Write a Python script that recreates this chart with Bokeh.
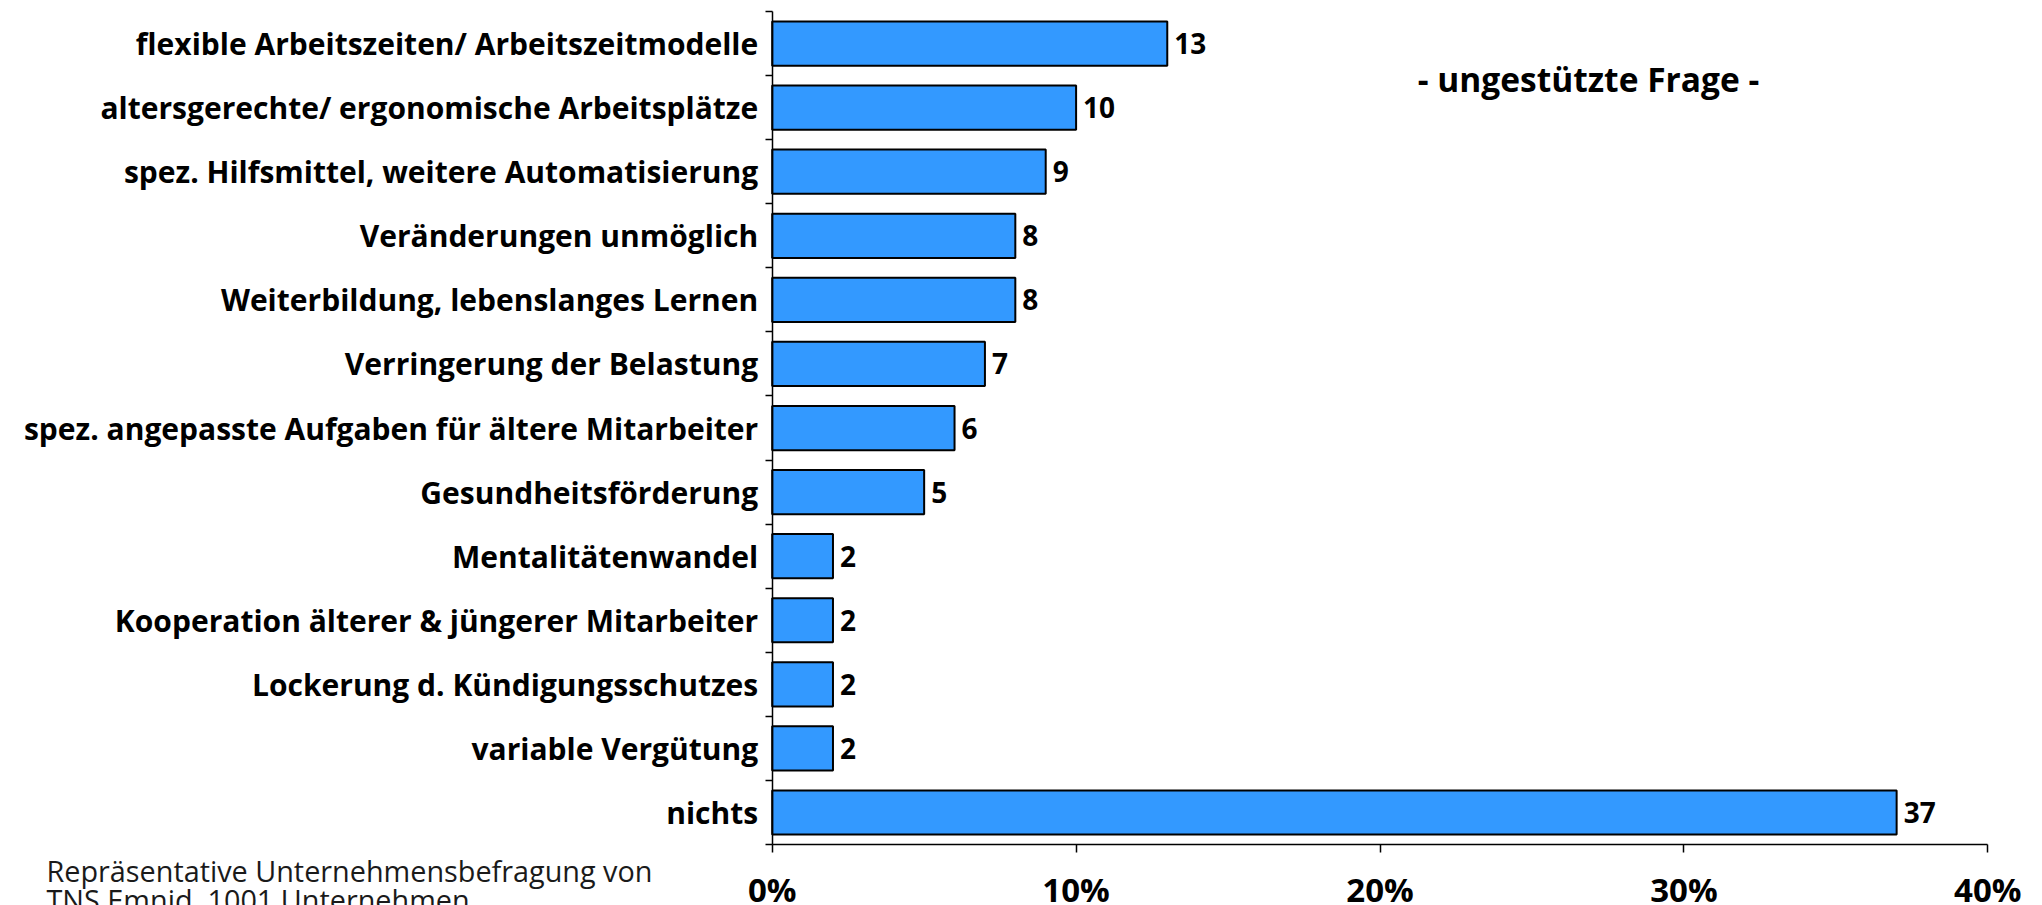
from bokeh.plotting import figure
from bokeh.models import Range1d, FixedTicker, PrintfTickFormatter, Label, ColumnDataSource
from bokeh.core.properties import value
from bokeh.embed import file_html
from bokeh.resources import INLINE

categories = [
    "flexible Arbeitszeiten/ Arbeitszeitmodelle",
    "altersgerechte/ ergonomische Arbeitsplätze",
    "spez. Hilfsmittel, weitere Automatisierung",
    "Veränderungen unmöglich",
    "Weiterbildung, lebenslanges Lernen",
    "Verringerung der Belastung",
    "spez. angepasste Aufgaben für ältere Mitarbeiter",
    "Gesundheitsförderung",
    "Mentalitätenwandel",
    "Kooperation älterer & jüngerer Mitarbeiter",
    "Lockerung d. Kündigungsschutzes",
    "variable Vergütung",
    "nichts",
]
values = [13, 10, 9, 8, 8, 7, 6, 5, 2, 2, 2, 2, 37]
x_ticks = [0, 10, 20, 30, 40]
title_text = "- ungestützte Frage -"
source_lines = ["Repräsentative Unternehmensbefragung von", "TNS Emnid, 1001 Unternehmen"]

FONT = "Open Sans"
n = len(categories)
centers = [i + 0.5 for i in range(n)]
x_min, x_max = x_ticks[0], x_ticks[-1]

src = ColumnDataSource(dict(y=centers, v=values, lbl=[str(v) for v in values]))

# the frame covers the whole canvas; axes are pinned at fixed data locations
W, H = 2042, 905
px_per_x = 30.39          # pixels per percent
px_per_band = 64.08       # pixels per category band
x0_px, y0_px = 771.7, 11.0
x_range = Range1d(-x0_px / px_per_x, (W - x0_px) / px_per_x)
y_range = Range1d((H - y0_px) / px_per_band, -y0_px / px_per_band)

p = figure(width=W, height=H, output_backend="svg", toolbar_location=None,
           x_range=x_range, y_range=y_range,
           min_border_left=0, min_border_right=0, min_border_top=0, min_border_bottom=0)
p.outline_line_color = None
p.grid.grid_line_color = None
p.background_fill_color = "white"
p.border_fill_color = "white"

p.hbar(y="y", right="v", left=0, height=0.69, source=src,
       fill_color="#3399FF", line_color="black", line_width=2)
p.text(x="v", y="y", text="lbl", source=src, x_offset=7, text_baseline="middle",
       text_align="left", text_font=value(FONT), text_font_style="bold",
       text_font_size="28px", text_color="black")

# y axis
ya = p.yaxis[0]
ya.fixed_location = x_min
ya.bounds = (0, n)
ya.ticker = FixedTicker(ticks=centers, minor_ticks=list(range(n + 1)))
ya.major_label_overrides = {c: cat for c, cat in zip(centers, categories)}
ya.major_tick_out = 0
ya.major_tick_in = 0
ya.minor_tick_out = 7
ya.minor_tick_in = 0
ya.minor_tick_line_width = 1.5
ya.axis_line_width = 1.5
ya.major_label_standoff = 7
ya.major_label_text_font = FONT
ya.major_label_text_font_style = "bold"
ya.major_label_text_font_size = "30px"
ya.major_label_text_color = "black"

# x axis
xa = p.xaxis[0]
xa.fixed_location = n
xa.bounds = (x_min, x_max)
xa.ticker = FixedTicker(ticks=x_ticks, minor_ticks=[])
xa.formatter = PrintfTickFormatter(format="%d%%")
xa.major_tick_out = 8
xa.major_tick_in = 0
xa.major_tick_line_width = 1.5
xa.axis_line_width = 1.5
xa.major_label_standoff = 14
xa.major_label_text_font = FONT
xa.major_label_text_font_style = "bold"
xa.major_label_text_font_size = "33px"
xa.major_label_text_color = "black"

p.add_layout(Label(x=26.86, y=1.06, text=title_text, text_align="center",
                   text_baseline="alphabetic", text_font=FONT, text_font_style="bold",
                   text_font_size="33.5px", text_color="black"))

for i, line in enumerate(source_lines):
    p.add_layout(Label(x=46, y=35 - i * 29, x_units="screen", y_units="screen",
                       text=line, text_align="left",
                       text_baseline="alphabetic", text_font=FONT,
                       text_font_size="28.8px", text_color="#1a1a1a"))

open("out.html", "w").write(file_html(p, INLINE))
